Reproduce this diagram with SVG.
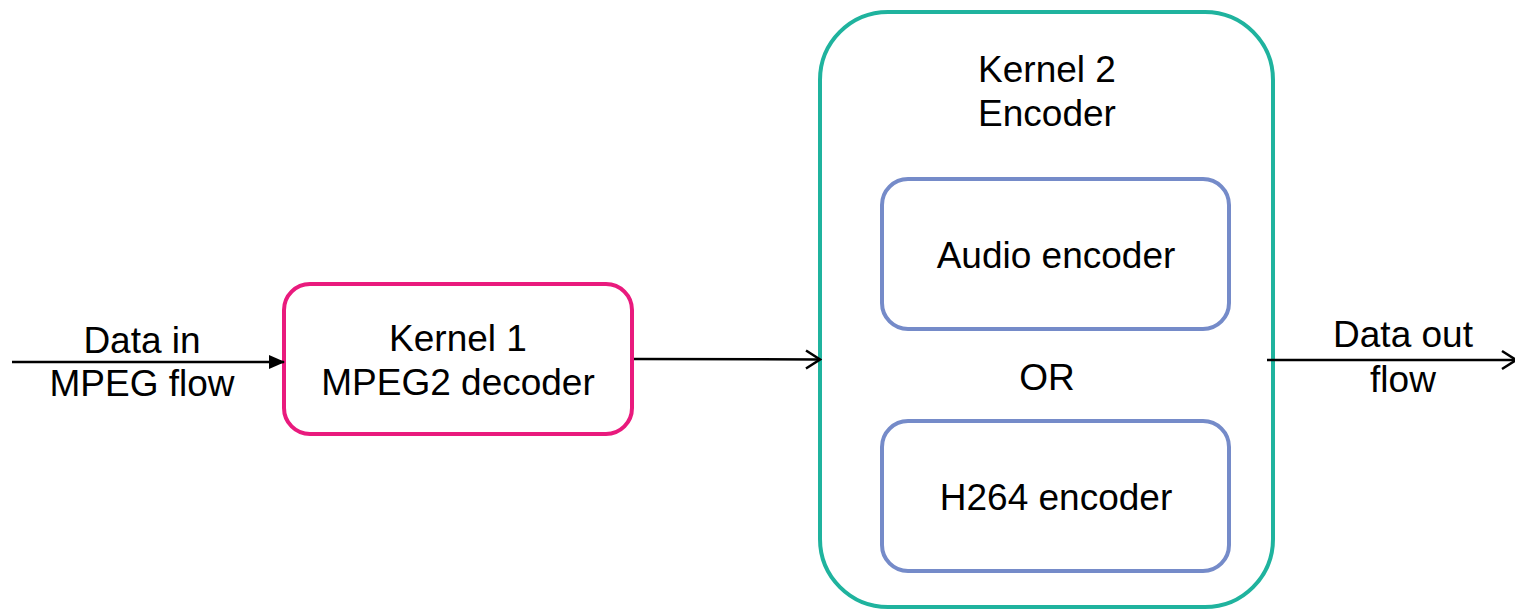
<svg xmlns="http://www.w3.org/2000/svg" width="1515" height="610" viewBox="0 0 1515 610">
<style>
text{font-family:"Liberation Sans",Arial,sans-serif;font-size:37px;fill:#000;text-anchor:middle}
.box{fill:#fff;stroke-width:4}
.conn{stroke:#000;stroke-width:2.5;fill:none}
</style>
<defs>
<marker id="filled" markerWidth="16" markerHeight="14" refX="15" refY="7" orient="auto" markerUnits="userSpaceOnUse">
<path d="M0,0 L16,7 L0,14 Z" fill="#000"/>
</marker>
<marker id="open" markerWidth="18" markerHeight="22" refX="16" refY="11" orient="auto" markerUnits="userSpaceOnUse">
<path d="M2,2 L16,11 L2,20" fill="none" stroke="#000" stroke-width="2.5"/>
</marker>
</defs>
<rect width="1515" height="610" fill="#fff"/>
<g id="label-in">
<text x="142" y="353">Data in</text>
<text x="142" y="396">MPEG flow</text>
</g>
<g id="kernel1">
<rect class="box" x="284" y="284" width="348" height="150" rx="26" stroke="#E91A7D"/>
<text x="458" y="351">Kernel 1</text>
<text x="458" y="395">MPEG2 decoder</text>
</g>
<g id="kernel2">
<rect class="box" x="820" y="12" width="453" height="595" rx="68" stroke="#1FB39E"/>
<text x="1047" y="82">Kernel 2</text>
<text x="1047" y="126">Encoder</text>
<text x="1047" y="390">OR</text>
</g>
<g id="audio">
<rect class="box" x="882" y="179" width="347" height="150" rx="26" stroke="#758BC9"/>
<text x="1056" y="268">Audio encoder</text>
</g>
<g id="h264">
<rect class="box" x="882" y="421" width="347" height="150" rx="26" stroke="#758BC9"/>
<text x="1056" y="510">H264 encoder</text>
</g>
<g id="label-out">
<text x="1403" y="347">Data out</text>
<text x="1403" y="392">flow</text>
</g>
<g id="connectors">
<line class="conn" x1="12" y1="362" x2="284" y2="362" marker-end="url(#filled)"/>
<line class="conn" x1="634" y1="359" x2="820" y2="359.5" marker-end="url(#open)"/>
<line class="conn" x1="1267" y1="360" x2="1516" y2="360" marker-end="url(#open)"/>
</g>
</svg>
